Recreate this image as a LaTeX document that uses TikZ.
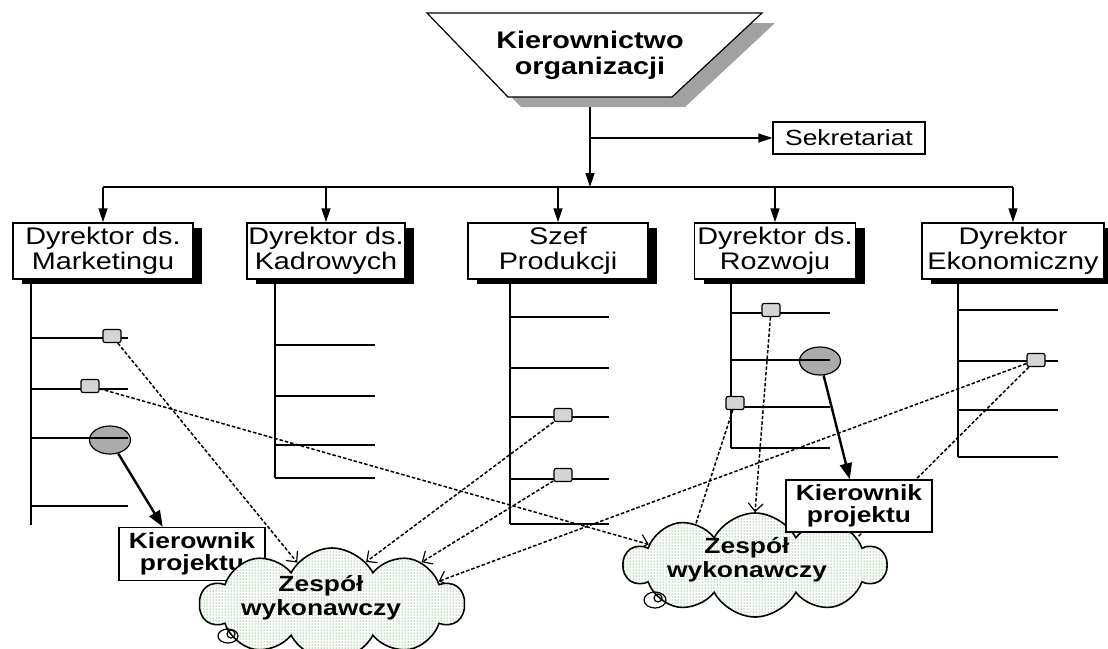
\documentclass[tikz,border=0pt]{standalone}
\usepackage{fontspec}
\setmainfont{Liberation Sans}[FakeStretch=1.2]
\usetikzlibrary{arrows.meta,shapes.geometric,shapes.symbols,shadows,patterns,backgrounds}

\tikzset{
  conn/.style={line width=1.5pt},
  tip/.style={conn, -{Triangle[length=14pt,width=9pt]}},
  stem/.style={line width=2pt},
  tick/.style={line width=1.3pt},
  dirbox/.style={draw, line width=1.5pt, fill=white, minimum height=56pt, inner sep=0pt,
    align=center, font=\fontsize{24}{25}\selectfont,
    drop shadow={shadow xshift=9pt, shadow yshift=-5pt, fill=black, opacity=1}},
  sekbox/.style={draw, line width=1.3pt, fill=white, minimum width=152pt, minimum height=32pt,
    inner sep=0pt, font=\fontsize{22}{22}\selectfont},
  kpbox/.style={draw, line width=1.5pt, fill=white, minimum width=146pt, minimum height=53pt,
    inner sep=0pt, align=center, font=\fontsize{22}{22}\selectfont\bfseries},
  sqmark/.style={draw, line width=1.2pt, fill=black!17, rounded corners=2pt,
    minimum width=18pt, minimum height=13pt, inner sep=0pt},
  ellmark/.style={ellipse, draw, line width=1.2pt, fill=black!33,
    minimum width=41pt, minimum height=28pt, inner sep=0pt},
  team/.style={cloud, draw, line width=1.6pt, fill=white,
    postaction={pattern=dots, pattern color=green!50!black},
    cloud puffs=10, cloud puff arc=125, aspect=2.6, inner sep=0pt},
  teamtext/.style={align=center, inner sep=0pt, font=\fontsize{22}{24}\selectfont\bfseries},
  dashtip/.style={line width=1.5pt, dash pattern=on 3.5pt off 2pt,
    -{Straight Barb[length=8pt,width=15pt,line width=1.2pt]}},
  dashline/.style={line width=1.5pt, dash pattern=on 3.5pt off 2pt},
  boldtip/.style={line width=2.4pt, -{Triangle[length=16pt,width=12pt]}}
}

\begin{document}
\begin{tikzpicture}[x=1pt,y=-1pt]
    \useasboundingbox (0,0) rectangle (1108,648);

    \fill[black!37] (440,23) -- (775,23) -- (685,107) -- (521,107) -- cycle;
    \draw[line width=1.2pt, fill=white] (427,13) -- (762,13) -- (672,97) -- (508,97) -- cycle;
    \node[align=center, inner sep=0pt, font=\fontsize{24}{26}\selectfont\bfseries] (kier) at (590,55)
        {Kierownictwo\\organizacji};

    \node[sekbox] (sek) at (849,138) {Sekretariat};
    \node[dirbox, minimum width=180pt] (dm) at (103,251) {Dyrektor ds.\\Marketingu};
    \node[dirbox, minimum width=158pt] (dk) at (326,251) {Dyrektor ds.\\Kadrowych};
    \node[dirbox, minimum width=180pt] (dp) at (558,251) {Szef\\Produkcji};
    \node[dirbox, minimum width=161pt] (dr) at (775,251) {Dyrektor ds.\\Rozwoju};
    \node[dirbox, minimum width=182pt] (de) at (1013,251) {Dyrektor\\Ekonomiczny};

    \coordinate (trunk) at (590,107);
    \coordinate (bus) at (590,187);
    \draw[tip] (trunk) -- (bus);
    \draw[tip] (trunk |- sek) -- (sek.west);
    \draw[conn] (dm.north |- bus) -- (de.north |- bus);
    \foreach \d in {dm,dk,dp,dr,de}
        \draw[tip] (\d.north |- bus) -- (\d.north);

    \node[ellmark] (elm) at (110,440) {};
    \node[ellmark] (elr) at (820,361) {};

    \foreach \x/\b in {31/525, 275/478, 510/524, 731/448, 958/457}
        \draw[stem] (\x,283) -- (\x,\b);
    \foreach \y in {338,389,438,506} \draw[tick] (31,\y) -- +(97,0);
    \foreach \y in {345,396,445,478} \draw[tick] (275,\y) -- +(100,0);
    \foreach \y in {317,368,417,479,524} \draw[tick] (510,\y) -- +(99,0);
    \foreach \y in {313,360,407,448} \draw[tick] (731,\y) -- +(99,0);
    \foreach \y in {310,361,410,457} \draw[tick] (958,\y) -- +(100,0);

    \node[sqmark] (sqm1) at (112,336) {};
    \node[sqmark] (sqm2) at (90,386) {};
    \node[sqmark] (sqp1) at (563,415) {};
    \node[sqmark] (sqp2) at (563,475) {};
    \node[sqmark] (sqr1) at (771,310) {};
    \node[sqmark] (sqr2) at (735,403) {};
    \node[sqmark] (sqe) at (1036,360) {};

    \node[kpbox] (kp1) at (192,554) {Kierownik\\projektu};
    \node[team, minimum width=264pt, minimum height=112pt] (cl1) at (332,604) {};
    \node[team, minimum width=262pt, minimum height=104pt] (cl2) at (755,565) {};
    \node[kpbox, minimum height=52pt] (kp2) at (859,506) {Kierownik\\projektu};

    \draw[line width=1.2pt] (228,636) ellipse (10 and 7);
    \draw[line width=1.2pt] (231,634) circle (4);
    \draw[line width=1.2pt] (655,600) ellipse (11 and 8);
    \draw[line width=1.2pt] (658,598) circle (4);

    \node[teamtext] (zw1) at (321,598) {Zespół\\wykonawczy};
    \node[teamtext] (zw2) at (747,560) {Zespół\\wykonawczy};

    \begin{scope}[on background layer]
        \draw[dashtip] (sqm1) -- (cl1.130);
        \draw[dashtip] (sqm2) -- (cl2.169);
        \draw[dashtip] (sqp1) -- (cl1.51);
        \draw[dashtip] (sqp2) -- (cl1.25);
        \draw[dashtip] (sqe) -- (cl1.12);
        \draw[dashline] (sqe) -- (cl2.15);
        \draw[dashtip] (sqr1) -- (cl2.90);
        \draw[dashline] (sqr2) -- (cl2.145);
    \end{scope}

    \draw[boldtip] (elm) -- (kp1.137);
    \draw[boldtip] (elr) -- (kp2.109);
\end{tikzpicture}
\end{document}
